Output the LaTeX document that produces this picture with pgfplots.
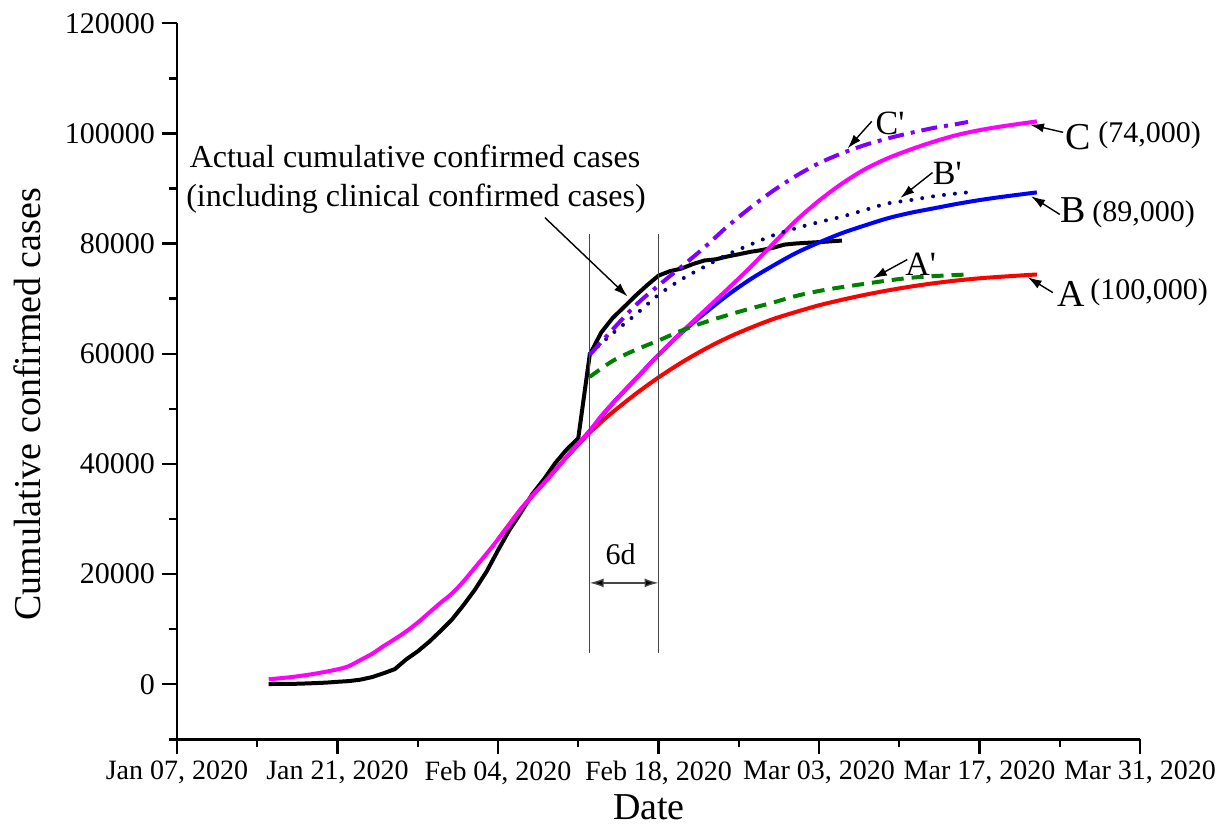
\documentclass[border=0pt]{standalone}
\usepackage{fontspec}
\setmainfont{Liberation Serif}
\usepackage{pgfplots}
\pgfplotsset{compat=1.18}
\usetikzlibrary{arrows.meta}

\definecolor{cmag}{RGB}{255,0,255}
\definecolor{cred}{RGB}{255,0,0}
\definecolor{cblue}{RGB}{0,0,255}
\definecolor{cgreen}{RGB}{0,128,0}
\definecolor{cnavy}{RGB}{0,0,128}
\definecolor{cviolet}{RGB}{128,0,255}
\definecolor{vline}{RGB}{70,70,70}

% day 0 = Jan 07, 2020
\pgfplotstableread{
d v
8 41
9 45
10 62
11 121
12 198
13 291
14 440
15 571
16 830
17 1287
18 1975
19 2744
20 4515
21 5974
22 7711
23 9692
24 11791
25 14380
26 17205
27 20438
28 24324
29 28018
30 31161
31 34546
32 37198
33 40171
34 42638
35 44653
36 59804
37 63851
38 66492
39 68500
40 70548
41 72436
42 74185
43 75000
44 75465
45 76288
46 76936
47 77150
48 77658
49 78064
50 78497
51 78824
52 79251
53 79824
54 80026
55 80151
56 80270
57 80409
58 80552
}\actual

\pgfplotstableread{
d v
8 900
10 1300
12 1900
14 2700
15 3300
16 4400
17 5500
18 6900
19 8200
20 9600
21 11200
22 13000
23 14800
24 16500
25 18700
26 21200
27 23700
28 26300
29 29000
30 31800
31 34300
32 36500
33 38900
34 41300
35 43700
36 46000
37 48700
38 51000
40 55400
42 59800
44 63900
46 67800
48 71700
50 75700
52 80000
54 84200
56 87800
58 90900
60 93500
62 95500
64 97100
66 98500
68 99700
70 100600
72 101300
74 101900
75 102200
}\curveC

\pgfplotstableread{
d v
28 26300
30 31800
32 36500
34 41300
35 43500
36 45700
37 47600
38 49400
40 52700
42 55700
44 58400
46 60800
48 62900
50 64700
52 66300
54 67600
56 68800
58 69800
60 70700
62 71500
64 72200
66 72800
68 73300
70 73700
72 74000
75 74400
}\curveA

\pgfplotstableread{
d v
34 41300
36 46000
38 51000
40 55400
42 59800
44 63800
46 67300
48 70600
50 73500
52 76000
54 78300
56 80200
58 81900
60 83300
62 84600
64 85600
66 86400
68 87200
70 87900
72 88500
75 89300
}\curveB

\pgfplotstableread{
d v
36 55800
38 58700
40 60700
42 62400
44 64200
46 65700
48 67000
50 68200
52 69300
54 70500
56 71400
58 72100
60 72700
62 73300
64 73800
66 74100
68 74300
69 74400
}\curveAp

\pgfplotstableread{
d v
36 60000
38 63700
40 67100
42 70700
44 73500
46 75800
48 78000
50 79800
52 81500
54 82800
56 83900
58 84900
60 86100
62 87300
64 87900
66 88600
68 89100
69 89300
}\curveBp

\pgfplotstableread{
d v
36 59800
38 64400
40 68800
42 72400
44 75800
46 79300
48 83100
50 86500
52 89600
54 92300
56 94600
58 96400
60 97900
62 99100
64 100100
66 101000
68 101700
69 102100
}\curveCp

\begin{document}
\begin{tikzpicture}[
  arr/.style={line width=0.7pt, -{Latex[length=7pt,width=4.5pt]}},
  lbl/.style={font=\fontsize{15}{18}\selectfont, inner sep=0pt},
  big/.style={font=\fontsize{19}{22}\selectfont, inner sep=0pt}
]
\begin{axis}[
  width=481.5pt, height=358pt, scale only axis,
  clip=false,
  xmin=0, xmax=84, ymin=-10000, ymax=120000,
  axis x line=bottom, axis y line=left,
  axis line style={line width=1.2pt, -},
  tick align=outside,
  major tick length=7.5pt, minor tick length=4pt,
  every tick/.style={black, line width=1.2pt},
  xtick={0,14,...,84}, minor xtick={7,21,...,77},
  xticklabels={{Jan 07, 2020},{Jan 21, 2020},{Feb 04, 2020},{Feb 18, 2020},{Mar 03, 2020},{Mar 17, 2020},{Mar 31, 2020}},
  ytick={0,20000,...,120000}, minor ytick={-10000,10000,...,110000},
  scaled y ticks=false,
  /pgf/number format/fixed,
  /pgf/number format/precision=0,
  /pgf/number format/1000 sep={},
  /pgf/number format/assume math mode=true,
  yticklabel={\pgfmathprintnumber{\tick}},
  x tick label style={font=\fontsize{14}{16}\selectfont},
  y tick label style={font=\fontsize{15}{18}\selectfont},
  xlabel={Date}, ylabel={Cumulative confirmed cases},
  xlabel style={font=\fontsize{19}{22}\selectfont, at={(axis description cs:0.49,0)}, anchor=base, yshift=-40pt},
  ylabel style={font=\fontsize{19}{22}\selectfont, at={(axis description cs:-0.1558,0.468)}, anchor=center},
]
% measured
\addplot[black, line width=2pt, line join=round] table[x=d,y=v] {\actual};
% fitted curves
\addplot[cred, line width=2pt, smooth] table[x=d,y=v] {\curveA};
\addplot[cblue, line width=2pt, smooth] table[x=d,y=v] {\curveB};
\addplot[cmag, line width=2pt, smooth] table[x=d,y=v] {\curveC};
\addplot[cgreen, line width=2pt, smooth, dash pattern=on 6pt off 4pt] table[x=d,y=v] {\curveAp};
\addplot[cnavy, line width=2pt, smooth, line cap=round, dash pattern=on 0pt off 5.5pt] table[x=d,y=v] {\curveBp};
\addplot[cviolet, line width=2pt, smooth, dash pattern=on 8pt off 3.5pt on 2pt off 3.5pt] table[x=d,y=v] {\curveCp};

% 6-day window
\draw[vline, line width=0.7pt] (axis cs:36,81800) -- (axis cs:36,5700);
\draw[vline, line width=0.7pt] (axis cs:42,81800) -- (axis cs:42,5700);
\draw[vline, line width=0.7pt, {Latex[length=7pt,width=4.5pt,fill=black]}-{Latex[length=7pt,width=4.5pt,fill=black]}] (axis cs:36,18400) -- (axis cs:42,18400);
\node[lbl, anchor=base] at (axis cs:38.7,21800) {6d};

% annotations
\node[lbl, font=\fontsize{16}{19}\selectfont, anchor=base] at (axis cs:20.76,93800) {Actual cumulative confirmed cases};
\node[lbl, font=\fontsize{16}{19}\selectfont, anchor=base] at (axis cs:20.85,86700) {(including clinical confirmed cases)};
\draw[arr] (axis cs:32.1,84700) -- (axis cs:39.3,70400);

\draw[arr] (axis cs:60.6,102200) -- (axis cs:58.5,97300);
\node[big, font=\fontsize{17}{20}\selectfont, anchor=base west] at (axis cs:60.9,99800) {C\textquotesingle};
\draw[arr] (axis cs:65.9,92900) -- (axis cs:63.1,88300);
\node[big, font=\fontsize{17}{20}\selectfont, anchor=base west] at (axis cs:65.9,90700) {B\textquotesingle};
\draw[arr] (axis cs:63.7,77100) -- (axis cs:60.7,73700);
\node[big, font=\fontsize{17}{20}\selectfont, anchor=base west] at (axis cs:63.5,74200) {A\textquotesingle};

\draw[arr] (axis cs:77.3,100200) -- (axis cs:74.4,101600);
\node[big, anchor=base west] at (axis cs:77.46,97090) {C};
\node[lbl, anchor=base west] at (axis cs:80.34,98360) {(74,000)};
\draw[arr] (axis cs:77.0,85300) -- (axis cs:74.5,88600);
\node[big, anchor=base west] at (axis cs:77.02,83820) {B};
\node[lbl, anchor=base west] at (axis cs:79.82,84000) {(89,000)};
\draw[arr] (axis cs:76.4,71100) -- (axis cs:74.2,73900);
\node[big, anchor=base west] at (axis cs:76.76,68550) {A};
\node[lbl, anchor=base west] at (axis cs:79.64,69820) {(100,000)};
\end{axis}
\pgfresetboundingbox
\useasboundingbox (-88.5pt,-43.35pt) rectangle (521pt,369.65pt);
\end{tikzpicture}
\end{document}
